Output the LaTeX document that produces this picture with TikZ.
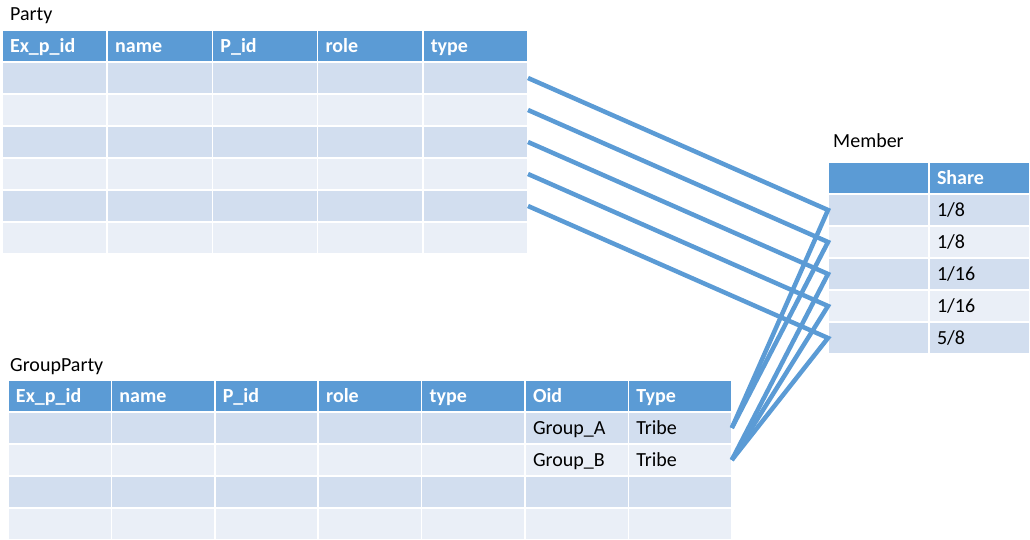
\documentclass[tikz,border=0pt]{standalone}
\usepackage{fontspec}
\setmainfont{Carlito}
\usepackage{xcolor}
\usetikzlibrary{positioning}
\definecolor{HeadBlue}{HTML}{5B9BD5}
\definecolor{RowDark}{HTML}{D2DEEF}
\definecolor{RowLight}{HTML}{EAEFF7}

\begin{document}
\begin{tikzpicture}[
    x=1pt, y=-1pt,
    font=\fontsize{20}{23}\selectfont,
    cell/.style={draw=white, line width=1.5pt, anchor=north west, inner xsep=8pt, inner ysep=0pt,
      outer sep=0pt, minimum height=32pt, align=left, text height=1.25em, text depth=0pt},
    head/.style={cell, fill=HeadBlue, text=white, font=\fontsize{20}{23}\selectfont\bfseries},
    rowdark/.style={cell, fill=RowDark},
    rowlight/.style={cell, fill=RowLight},
    title/.style={anchor=base west, inner sep=0pt},
    link/.style={draw=HeadBlue, line width=4.5pt, line join=miter}
  ]
  \useasboundingbox (0,0) rectangle (1030,540);

  % Party table
  \node[title] (party) at (10,21) {Party};
  \foreach \t [count=\c] in {Ex\_p\_id,name,P\_id,role,type}
    \node[head, text width=89.2pt] (party-0-\c) at ({2+105.2*(\c-1)},30) {\t};
  \foreach \r in {1,...,6}
    \foreach \c in {1,...,5} {
      \ifodd\r \tikzset{rowfill/.style=rowdark}\else\tikzset{rowfill/.style=rowlight}\fi
      \node[rowfill, text width=89.2pt] (party-\r-\c) at ({2+105.2*(\c-1)},{30+32*\r}) {};
    }

  % Member table
  \node[title] (member) at (833,148) {Member};
  \node[head, text width=85pt] (member-0-1) at (828,162) {};
  \node[head, text width=85pt] (member-0-2) at (929,162) {Share};
  \foreach \s [count=\r] in {{1/8},{1/8},{1/16},{1/16},{5/8}} {
    \ifodd\r \tikzset{rowfill/.style=rowdark}\else\tikzset{rowfill/.style=rowlight}\fi
    \node[rowfill, text width=85pt] (member-\r-1) at (828,{162+32*\r}) {};
    \node[rowfill, text width=85pt] (member-\r-2) at (929,{162+32*\r}) {\s};
  }

  % GroupParty table
  \node[title] (group) at (10,371) {GroupParty};
  \foreach \t [count=\c] in {Ex\_p\_id,name,P\_id,role,type,Oid,Type}
    \node[head, text width=87.4pt] (group-0-\c) at ({8+103.4*(\c-1)},380) {\t};
  \foreach \r/\oid/\kind in {1/Group\_A/Tribe,2/Group\_B/Tribe,3//,4//} {
    \ifodd\r \tikzset{rowfill/.style=rowdark}\else\tikzset{rowfill/.style=rowlight}\fi
    \foreach \c in {1,...,5}
      \node[rowfill, text width=87.4pt] (group-\r-\c) at ({8+103.4*(\c-1)},{380+32*\r}) {};
    \node[rowfill, text width=87.4pt] (group-\r-6) at ({8+103.4*5},{380+32*\r}) {\oid};
    \node[rowfill, text width=87.4pt] (group-\r-7) at ({8+103.4*6},{380+32*\r}) {\kind};
  }

  % links
  \foreach \r/\g in {1/1,2/1,3/2,4/2,5/2}
    \draw[link] (party-\r-5.east) -- (member-\r-1.west) -- (group-\g-7.east);
\end{tikzpicture}
\end{document}
